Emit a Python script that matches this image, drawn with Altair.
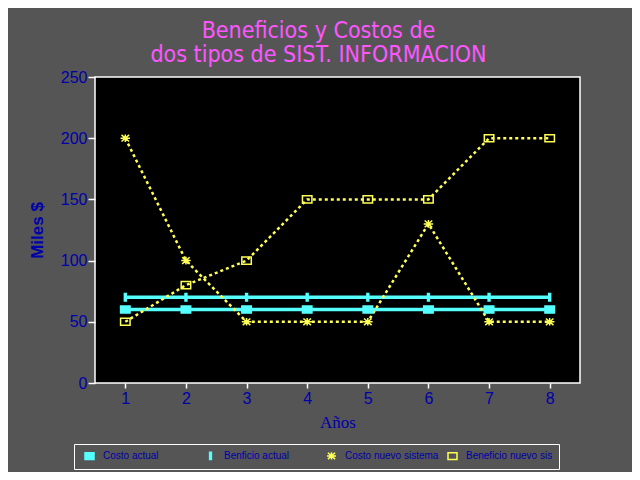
import altair as alt
import pandas as pd

# values
years = [1, 2, 3, 4, 5, 6, 7, 8]
costo_actual = [60, 60, 60, 60, 60, 60, 60, 60]
beneficio_actual = [70, 70, 70, 70, 70, 70, 70, 70]
costo_nuevo = [200, 100, 50, 50, 50, 130, 50, 50]
beneficio_nuevo = [50, 80, 100, 150, 150, 150, 200, 200]

series = ["Costo actual", "Benficio actual", "Costo nuevo sistema", "Beneficio nuevo sis"]
values = [costo_actual, beneficio_actual, costo_nuevo, beneficio_nuevo]

CYAN = "#55FFFF"
YELLOW = "#FFFF55"
BLUE = "#0000AA"
MAGENTA = "#FF55FF"
GREY = "#555555"

rows = []
for name, vals in zip(series, values):
    for yr, v in zip(years, vals):
        rows.append({"anio": yr, "valor": v, "serie": name})
df = pd.DataFrame(rows)

box = "M-1,-0.75H1V0.75H-1Z"
bar = "M-0.2,-0.8H0.2V0.8H-0.2Z"
star = "M-1,0H1M0,-0.8V0.8M-0.8,-0.7L0.8,0.7M-0.8,0.7L0.8,-0.7"

stroke_scale = alt.Scale(domain=series, range=[CYAN, CYAN, YELLOW, YELLOW])
fill_scale = alt.Scale(domain=series, range=[CYAN, CYAN, "transparent", "transparent"])
shape_scale = alt.Scale(domain=series, range=[box, bar, star, box])

x = alt.X(
    "anio:Q",
    title="Años",
    scale=alt.Scale(domain=[0.5, 8.5], nice=False, zero=False),
    axis=alt.Axis(values=years, format="d", titleFont="Liberation Serif",
                  titleFontSize=17, titleFontWeight="normal", titlePadding=8),
)
y = alt.Y(
    "valor:Q",
    title="Miles $",
    scale=alt.Scale(domain=[0, 250], nice=False),
    axis=alt.Axis(values=[0, 50, 100, 150, 200, 250], titleFontSize=17,
                  titleFontWeight="bold", titlePadding=14, tickSize=7, labelPadding=1),
)

base = alt.Chart(df).encode(
    x=x,
    y=y,
    stroke=alt.Stroke("serie:N", scale=stroke_scale, title=None),
)

actual_lines = base.transform_filter(
    alt.FieldOneOfPredicate(field="serie", oneOf=series[:2])
).mark_line(strokeWidth=3.5)

nuevo_lines = base.transform_filter(
    alt.FieldOneOfPredicate(field="serie", oneOf=series[2:])
).mark_line(strokeWidth=2.5, strokeDash=[3, 3])

points = base.mark_point(size=90, strokeWidth=1.5, opacity=1).encode(
    fill=alt.Fill("serie:N", scale=fill_scale, title=None),
    shape=alt.Shape("serie:N", scale=shape_scale, title=None),
)

chart = (
    alt.layer(actual_lines, nuevo_lines, points)
    .properties(
        width=485,
        height=306,
        autosize=alt.AutoSizeParams(type="none"),
        padding={"left": 87, "top": 69, "right": 52, "bottom": 89},
        background=GREY,
        title=alt.TitleParams(
            ["Beneficios y Costos de", "dos tipos de SIST. INFORMACION"],
            color=MAGENTA,
            font="Liberation Sans Narrow, DejaVu Sans Condensed, Liberation Sans",
            fontSize=23,
            fontWeight="normal",
            lineHeight=24,
            anchor="middle",
            dx=-19,
            offset=2,
        ),
    )
    .configure_view(fill="black", stroke="white", strokeWidth=1.5)
    .configure_axis(
        grid=False,
        domain=False,
        tickColor="white",
        tickWidth=1.5,
        tickSize=5,
        labelColor=BLUE,
        labelFont="Liberation Sans",
        labelFontSize=16,
        titleColor=BLUE,
        titleFont="Liberation Sans",
    )
    .configure_legend(
        orient="none",
        legendX=-21,
        legendY=367,
        direction="horizontal",
        columns=4,
        gridAlign="all",
        columnPadding=4,
        padding=6,
        strokeColor="white",
        labelColor=BLUE,
        labelFont="Liberation Sans",
        labelFontSize=10,
        labelOffset=8,
        labelLimit=200,
        symbolSize=81,
        symbolStrokeWidth=1.5,
        symbolOffset=4,
    )
)

chart.save("out.html", embed_options={"renderer": "svg", "actions": False})
